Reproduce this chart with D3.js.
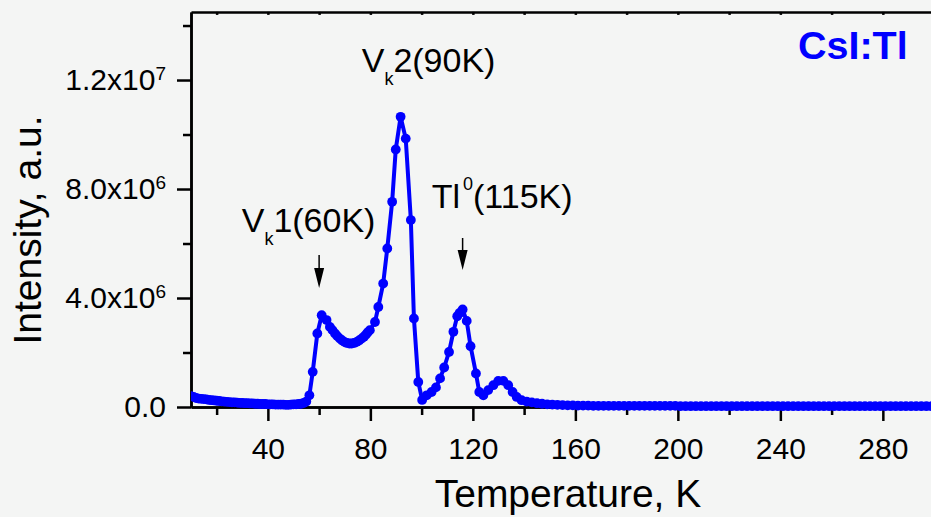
<!DOCTYPE html>
<html><head><meta charset="utf-8">
<script src="https://cdn.jsdelivr.net/npm/d3@7/dist/d3.min.js"></script>
<style>
html,body{margin:0;padding:0;background:#f4f5f4;overflow:hidden}
svg{display:block}
text{font-family:"Liberation Sans",Arial,Helvetica,sans-serif;fill:#000}
</style></head><body>
<svg id="chart" width="931" height="517"></svg>
<script>
// Temperature, K
const temperatures = [
  10,11,12,13,14,15,16,17,18,19,20,21,22,23,24,25,26,27,28,29,30,31,32,33,34,35,36,37,38,39,
  40,41,42,43,44,45,46,47,48,49,50,51,52,53,54,55,
  56.2,57.5,59.3,61.0,62.9,64.2,65.2,66.2,67.1,68.1,69.0,70.0,70.8,71.8,72.7,73.7,74.7,75.6,76.6,77.5,78.3,79.0,79.8,
  81.8,83.1,85.0,86.6,88.5,89.9,91.8,93.8,95.8,97.0,98.7,100.2,102.0,103.9,105.6,107.2,108.8,110.7,112.4,113.9,114.8,116.0,
  117.6,119.1,121.2,122.5,124.1,126.0,128.0,129.9,131.9,133.8,135.5,137.1,139.0,
  141,143,145,147,149,151,153,155,157,159,161,163,165,167,169,171,173,175,177,179,181,183,185,187,189,191,193,195,197,199,
  201,203,205,207,209,211,213,215,217,219,221,223,225,227,229,231,233,235,237,239,241,243,245,247,249,
  251,253,255,257,259,261,263,265,267,269,271,273,275,277,279,281,283,285,287,289,291,293,295,297,299
];
// Intensity, in units of 10^6 a.u.
const intensities = [
  0.40,0.37,0.33,0.31,0.30,0.29,0.28,0.26,0.25,0.24,0.23,0.22,0.21,0.20,0.19,0.18,0.17,0.17,0.16,0.15,0.15,0.14,0.14,0.13,0.13,0.12,0.12,0.11,0.11,0.11,
  0.10,0.10,0.10,0.09,0.09,0.09,0.09,0.08,0.08,0.09,0.10,0.10,0.11,0.12,0.15,0.20,
  0.43,1.29,2.70,3.37,3.19,2.94,2.82,2.70,2.60,2.51,2.44,2.38,2.35,2.33,2.33,2.35,2.39,2.44,2.51,2.58,2.66,2.74,2.82,
  3.12,3.67,4.53,5.82,7.53,9.45,10.65,9.85,6.86,3.25,0.92,0.26,0.43,0.55,0.72,1.05,1.45,2.02,2.76,3.33,3.45,3.58,
  3.16,2.23,1.23,0.55,0.43,0.62,0.80,0.96,0.96,0.80,0.55,0.37,0.25,
  0.20,0.17,0.14,0.12,0.10,0.09,0.08,0.07,0.06,0.06,0.05,0.05,0.05,0.04,0.04,0.04,0.04,0.04,0.04,0.04,0.04,0.04,0.04,0.04,0.04,0.04,0.04,0.04,0.04,0.04,
  0.03,0.03,0.03,0.03,0.03,0.03,0.03,0.03,0.03,0.03,0.03,0.03,0.03,0.03,0.03,0.03,0.03,0.03,0.03,0.03,0.03,0.03,0.03,0.03,0.03,
  0.03,0.03,0.03,0.03,0.03,0.03,0.03,0.03,0.03,0.03,0.03,0.03,0.03,0.03,0.03,0.03,0.03,0.03,0.03,0.03,0.03,0.03,0.03,0.03,0.03
];
const xTickValues = [40,80,120,160,200,240,280];
const xMinorTicks = [20,60,100,140,180,220,260,300];
const yTickValues = [0,4,8,12];
const yTickMantissas = ["0.0","4.0","8.0","1.2"];
const yTickExponents = ["","6","6","7"];
const yMinorTicks = [2,6,10,14];
const xTitle = "Temperature, K";
const yTitle = "Intensity, a.u.";
const sampleLabel = "CsI:Tl";

const svg = d3.select("#chart");
const x = d3.scaleLinear().domain([10,300]).range([191,934.1]);
const y = d3.scaleLinear().domain([0,14.5]).range([407,11.9]);
const AX = "#000", AW = 2.5;

function styleAxis(g){
  g.select(".domain").attr("stroke",AX).attr("stroke-width",AW);
  g.selectAll(".tick line").attr("stroke",AX).attr("stroke-width",AW);
}

// top frame line with tiny inward ticks
svg.append("g").attr("transform","translate(0,11.9)")
  .call(d3.axisTop(x).tickValues(xTickValues.concat(xMinorTicks)).tickSize(-3).tickSizeOuter(0).tickFormat(""))
  .call(styleAxis);

// bottom axis: minor then major
svg.append("g").attr("transform","translate(0,407)")
  .call(d3.axisBottom(x).tickValues(xMinorTicks).tickSize(8).tickSizeOuter(0).tickFormat(""))
  .call(styleAxis);
const gx = svg.append("g").attr("transform","translate(0,407)")
  .call(d3.axisBottom(x).tickValues(xTickValues).tickSize(14).tickSizeOuter(0).tickFormat(d3.format("d")))
  .call(styleAxis);
gx.selectAll(".tick text").attr("y",52).attr("dy",0)
  .style("font-size","30px").style("font-family","'Liberation Sans',Arial,sans-serif").attr("fill","#000");

// left axis: minor then major
svg.append("g").attr("transform","translate(191,0)")
  .call(d3.axisLeft(y).tickValues(yMinorTicks).tickSize(8).tickSizeOuter(0).tickFormat(""))
  .call(styleAxis);
const gy = svg.append("g").attr("transform","translate(191,0)")
  .call(d3.axisLeft(y).tickValues(yTickValues).tickSize(14).tickSizeOuter(0).tickFormat(""))
  .call(styleAxis);
gy.selectAll(".tick text").each(function(d,i){
  const t = d3.select(this).attr("x",-25).attr("dy","0.33em")
    .style("font-size","30px").style("font-family","'Liberation Sans',Arial,sans-serif").attr("fill","#000");
  t.text(null);
  if (yTickExponents[i]) {
    t.append("tspan").text(yTickMantissas[i] + "x10");
    t.append("tspan").attr("dy",-10).style("font-size","19px").text(yTickExponents[i]);
  } else {
    t.append("tspan").text(yTickMantissas[i]);
  }
});

// axis titles
svg.append("text").attr("x",568).attr("y",507).attr("text-anchor","middle")
  .style("font-size","39px").text(xTitle);
svg.append("text").attr("transform","translate(41,230) rotate(-90)").attr("text-anchor","middle")
  .style("font-size","39px").text(yTitle);

// data
const pts = temperatures.map((t,i)=>({t, v:intensities[i]}));
svg.append("defs").append("clipPath").attr("id","clip")
  .append("rect").attr("x",191).attr("y",0).attr("width",760).attr("height",517);
const plot = svg.append("g").attr("clip-path","url(#clip)");
plot.append("path").datum(pts)
  .attr("fill","none").attr("stroke","#0000ff").attr("stroke-width",4).attr("stroke-linejoin","round")
  .attr("d", d3.line().x(d=>x(d.t)).y(d=>y(d.v)));
plot.selectAll("circle").data(pts).enter().append("circle")
  .attr("cx",d=>x(d.t)).attr("cy",d=>y(d.v)).attr("r",4.9).attr("fill","#0000ff");

// annotations
const a1 = svg.append("text").attr("x",361.7).attr("y",71.7).style("font-size","34px");
a1.append("tspan").text("V");
a1.append("tspan").attr("dy",13).style("font-size","18px").text("k");
a1.append("tspan").attr("dy",-13).attr("dx",0).text("2(90K)");

const a2 = svg.append("text").attr("x",241.7).attr("y",231.7).style("font-size","34px");
a2.append("tspan").text("V");
a2.append("tspan").attr("dy",13).style("font-size","18px").text("k");
a2.append("tspan").attr("dy",-13).attr("dx",0).text("1(60K)");

const a3 = svg.append("text").attr("x",431.7).attr("y",208.3).style("font-size","34px");
a3.append("tspan").text("Tl");
a3.append("tspan").attr("dy",-18).attr("dx",3).style("font-size","18px").text("0");
a3.append("tspan").attr("dy",18).attr("dx",0).text("(115K)");

function arrow(cx, y0, y1){
  svg.append("line").attr("x1",cx).attr("x2",cx).attr("y1",y0).attr("y2",y1-8)
    .attr("stroke","#000").attr("stroke-width",1.5);
  svg.append("path").attr("d",`M${cx-5},${y1-20}L${cx+5},${y1-20}L${cx},${y1}Z`).attr("fill","#000");
}
arrow(x(60), 255, 288);
arrow(x(116), 238, 270);

svg.append("text").attr("x",798).attr("y",59)
  .style("font-size","39.5px").style("font-weight","bold").attr("fill","#0000ff").style("fill","#0000ff")
  .text(sampleLabel);
</script>
</body></html>
